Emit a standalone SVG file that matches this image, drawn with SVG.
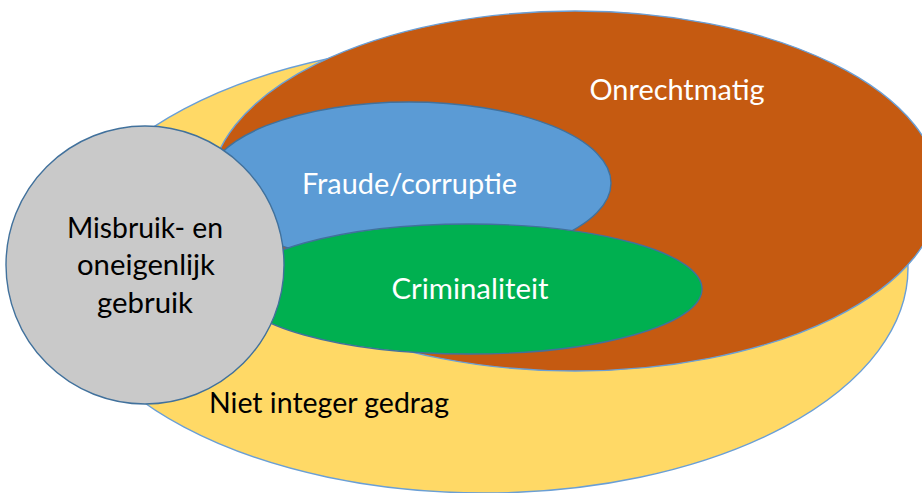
<svg xmlns="http://www.w3.org/2000/svg" width="922" height="493" viewBox="0 0 922 493">
<style>
.shape{stroke-width:1.4}
.lb{font-family:Lato,"Open Sans","Liberation Sans",sans-serif;font-size:28px;text-anchor:middle}
.w{fill:#ffffff}
.k{fill:#000000}
</style>
<rect width="922" height="493" fill="#ffffff"/>
<g id="niet-integer">
<ellipse class="shape" cx="484" cy="268" rx="424" ry="225" fill="#FFD966" stroke="#6A9FD6"/>
<text class="lb k" x="329" y="413" textLength="240" lengthAdjust="spacingAndGlyphs">Niet integer gedrag</text>
</g>
<g id="onrechtmatig">
<ellipse class="shape" cx="575" cy="191" rx="365" ry="180" fill="#C55A11" stroke="#6A9FD6"/>
<text class="lb w" x="677" y="100" textLength="175" lengthAdjust="spacingAndGlyphs">Onrechtmatig</text>
</g>
<g id="fraude">
<ellipse class="shape" cx="409" cy="183" rx="202" ry="81" fill="#5B9BD5" stroke="#41719C"/>
<text class="lb w" x="409.5" y="194" textLength="215" lengthAdjust="spacingAndGlyphs">Fraude/corruptie</text>
</g>
<g id="criminaliteit">
<ellipse class="shape" cx="469" cy="289" rx="233" ry="65" fill="#00B050" stroke="#41719C"/>
<text class="lb w" x="470" y="299" textLength="157" lengthAdjust="spacingAndGlyphs">Criminaliteit</text>
</g>
<g id="misbruik">
<circle class="shape" cx="145" cy="265" r="139" fill="#C9C9C9" stroke="#41719C"/>
<text class="lb k" x="145" y="238" textLength="156" lengthAdjust="spacingAndGlyphs">Misbruik- en</text>
<text class="lb k" x="146" y="275" textLength="138" lengthAdjust="spacingAndGlyphs">oneigenlijk</text>
<text class="lb k" x="145" y="313" textLength="96" lengthAdjust="spacingAndGlyphs">gebruik</text>
</g>
</svg>
